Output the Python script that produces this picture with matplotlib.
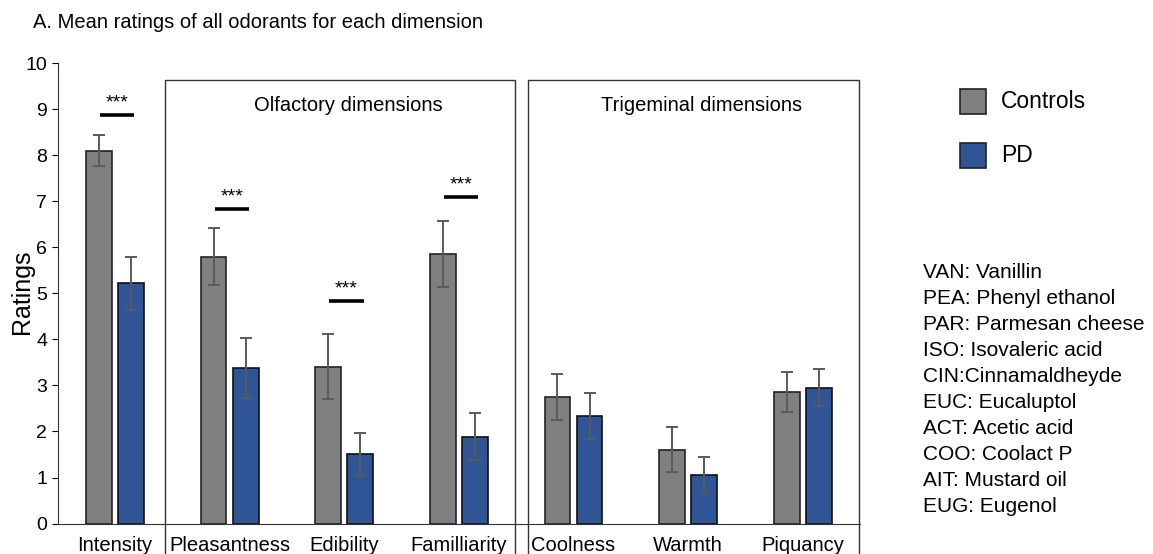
import numpy as np
import matplotlib
matplotlib.use("Agg")
import matplotlib.pyplot as plt
from matplotlib.patches import Rectangle

plt.rcParams['font.family'] = ['Liberation Sans', 'DejaVu Sans']

dims = ["Intensity", "Pleasantness", "Edibility", "Familliarity",
        "Coolness", "Warmth", "Piquancy"]
controls = [8.10, 5.80, 3.41, 5.86, 2.75, 1.60, 2.86]
controls_err = [0.34, 0.62, 0.70, 0.71, 0.50, 0.49, 0.43]
pd_vals = [5.22, 3.38, 1.51, 1.89, 2.34, 1.05, 2.95]
pd_err = [0.58, 0.65, 0.46, 0.52, 0.50, 0.39, 0.40]
sig_level = [8.87, 6.84, 4.83, 7.10, None, None, None]
odorants = ["VAN: Vanillin", "PEA: Phenyl ethanol", "PAR: Parmesan cheese",
            "ISO: Isovaleric acid", "CIN:Cinnamaldheyde", "EUC: Eucaluptol",
            "ACT: Acetic acid", "COO: Coolact P", "AIT: Mustard oil",
            "EUG: Eugenol"]

grey = "#808080"
blue = "#2f5597"

fig = plt.figure(figsize=(11.53, 5.54), dpi=100)
ax = fig.add_axes([0.050, 0.055, 0.696, 0.8307])

x = np.arange(len(dims))
off = 0.14
w = 0.225
ax.bar(x - off, controls, w, color=grey, edgecolor="#222222", linewidth=1.2, zorder=2)
ax.bar(x + off, pd_vals, w, color=blue, edgecolor="#111111", linewidth=1.2, zorder=2)
ax.errorbar(x - off, controls, yerr=controls_err, fmt="none", ecolor="#5a5a5a",
            elinewidth=1.4, capsize=4, capthick=1.4, zorder=3)
ax.errorbar(x + off, pd_vals, yerr=pd_err, fmt="none", ecolor="#5a5a5a",
            elinewidth=1.4, capsize=4, capthick=1.4, zorder=3)

# significance bars
for xi, lvl in zip(x, sig_level):
    if lvl is None:
        continue
    ax.plot([xi - 0.13, xi + 0.17], [lvl, lvl], color="black", lw=2.6,
            solid_capstyle="butt")
    ax.text(xi + 0.02, lvl + 0.08, "***", ha="center", va="bottom", fontsize=14)

# group boxes running down past the axis
for x0, x1, label in [(0.44, 3.49, "Olfactory dimensions"),
                      (3.60, 6.49, "Trigeminal dimensions")]:
    ax.add_patch(Rectangle((x0, -0.9), x1 - x0, 9.64 + 0.9, fill=False,
                           edgecolor="#333333", linewidth=1.0, clip_on=False,
                           zorder=1))
    ax.text((x0 + x1) / 2 + 0.07, 9.09, label, ha="center", va="center",
            fontsize=14.5)

ax.set_xlim(-0.5, 6.5)
ax.set_ylim(0, 10)
ax.set_yticks(range(0, 11))
ax.set_xticks(x)
ax.set_xticklabels(dims, fontsize=14.5)
ax.tick_params(axis="x", length=0, pad=9)
ax.tick_params(axis="y", labelsize=14, length=4, direction="out")
for s in ["top", "right"]:
    ax.spines[s].set_visible(False)
ax.spines["left"].set_color("#333333")
ax.spines["bottom"].set_color("#333333")

fig.text(22 / 1153, 1 - 292 / 554, "Ratings", rotation=90, fontsize=18,
         ha="center", va="center")
fig.text(0.029, 0.960, "A. Mean ratings of all odorants for each dimension",
         fontsize=14.5, va="center", ha="left")

# legend
for yc, col, lab in [(101.5, grey, "Controls"), (155, blue, "PD")]:
    fig.patches.append(Rectangle((960 / 1153, 1 - (yc + 12.5) / 554), 26 / 1153,
                                 25 / 554, transform=fig.transFigure,
                                 facecolor=col, edgecolor="#222222", lw=1.2))
    fig.text(1001 / 1153, 1 - yc / 554, lab, fontsize=16.5, va="center", ha="left")

for i, s in enumerate(odorants):
    fig.text(923 / 1153, 1 - (273 + 26 * i) / 554, s, fontsize=15,
             va="center", ha="left")

fig.savefig("out.png", dpi=100)
